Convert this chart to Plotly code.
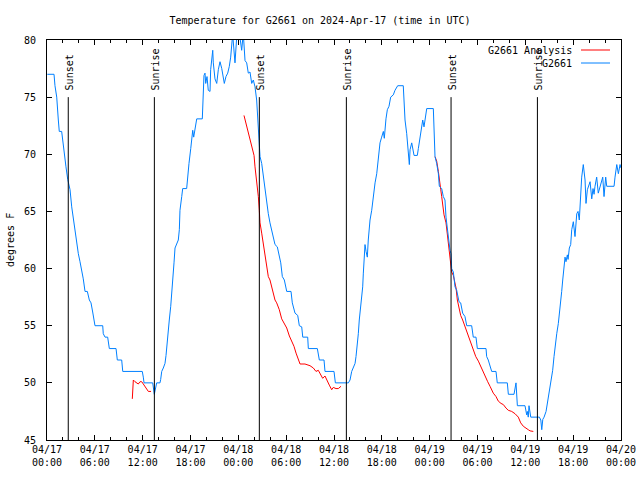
import numpy as np
import pandas as pd
import plotly.graph_objects as go

BASE = "2024-04-17 00:00"

# Observed G2661 temperature: hours since BASE, degrees F
obs_hours = [0.04, 0.88, 1.00, 1.22, 1.42, 1.54, 1.84, 2.04, 2.38, 2.60, 2.89, 3.10, 3.30, 3.51, 3.73, 3.93,
             4.14, 4.35, 4.55, 4.77, 5.06, 5.31, 5.52, 5.73, 5.93, 6.02, 6.99, 7.06, 7.28, 7.61, 7.82, 8.66,
             8.82, 9.37, 9.50, 11.95, 12.08, 12.17, 13.26, 13.33, 13.46, 13.76, 14.17, 14.26, 14.39, 14.59,
             14.80, 14.93, 15.09, 15.22, 15.34, 15.52, 15.64, 15.77, 15.93, 16.06, 16.27, 16.47, 16.60, 16.68,
             16.90, 17.02, 17.52, 17.65, 17.81, 18.03, 18.15, 18.28, 18.40, 18.57, 18.78, 19.48, 19.53, 19.61,
             19.69, 19.82, 19.91, 20.07, 20.23, 20.45, 20.53, 20.79, 20.86, 21.07, 21.29, 21.49, 21.70, 21.92,
             22.04, 22.24, 22.45, 22.67, 22.87, 23.04, 23.29, 23.46, 23.58, 23.80, 24.00, 24.21, 24.42, 24.62,
             24.84, 25.05, 25.25, 25.46, 25.68, 25.88, 26.09, 26.30, 26.51, 26.63, 26.72, 26.93, 27.13, 27.35,
             27.56, 27.76, 27.97, 28.19, 28.60, 28.89, 29.14, 29.32, 29.52, 29.77, 30.07, 30.61, 30.77, 31.11,
             31.45, 31.65, 31.95, 32.08, 32.70, 32.78, 33.91, 34.03, 34.16, 34.75, 34.87, 36.00, 36.17, 37.80,
             38.01, 38.22, 38.64, 38.76, 38.92, 39.05, 39.17, 39.35, 39.48, 39.60, 39.68, 39.80, 39.89, 40.02,
             40.18, 40.30, 40.52, 40.73, 40.93, 41.15, 41.36, 41.56, 41.77, 41.98, 42.19, 42.31, 42.40, 42.52,
             42.69, 42.90, 43.11, 43.44, 43.65, 43.87, 43.99, 44.69, 44.78, 44.91, 45.12, 45.32, 45.45, 45.54,
             45.75, 46.04, 46.45, 46.58, 46.79, 47.00, 47.13, 47.29, 47.42, 47.63, 48.46, 48.55, 48.67, 48.88,
             49.09, 49.21, 49.51, 49.71, 49.92, 50.05, 50.21, 50.34, 50.55, 50.68, 50.76, 50.97, 51.09, 51.18,
             51.39, 51.68, 51.89, 52.14, 52.43, 52.65, 53.27, 53.47, 53.81, 53.98, 55.07, 55.15, 55.35, 55.78,
             56.32, 56.48, 57.74, 57.87, 58.58, 58.71, 58.83, 59.00, 59.96, 60.17, 60.25, 60.37, 60.46, 60.68,
             61.76, 61.94, 62.06, 62.19, 62.35, 62.60, 62.76, 62.93, 63.18, 63.43, 63.60, 63.72, 63.94, 64.14,
             64.26, 64.44, 64.56, 64.69, 64.85, 64.98, 65.10, 65.27, 65.36, 65.52, 65.69, 65.82, 66.02, 66.23,
             66.45, 66.61, 66.77, 66.95, 67.07, 67.27, 67.49, 67.61, 67.78, 68.12, 68.33, 68.49, 68.62, 68.74,
             68.95, 69.15, 69.37, 69.71, 69.87, 70.08, 70.21, 71.13, 71.25, 71.47, 71.67, 71.88, 72.00]
obs_temp = [77, 77, 76, 75, 73, 72, 72, 70.7, 68.9, 67.8, 66.9, 65.4, 64.3, 63.4, 62.2, 61.3,
            60.6, 59.9, 59.1, 58, 58, 57.25, 57, 56.2, 55.5, 55, 55, 54.3, 54, 54, 53, 53,
            52, 52, 51, 51, 50.5, 50, 50, 49.7, 49, 50, 50, 50.3, 51, 51.3,
            51.7, 52.4, 53.4, 54.6, 55.5, 56.7, 58.1, 59.4, 60.5, 61.8, 62.1, 62.5, 63.4, 65.1,
            66.3, 67, 67, 68.2, 69.2, 70.5, 71.25, 72.1, 71.5, 72.3, 73.1, 73.1, 74, 75.3,
            76.9, 77.1, 76.2, 76.8, 75.6, 75.5, 77.4, 79.1, 78, 76.6, 76.2, 77.4, 78.1, 77.5,
            77.1, 76.2, 76.8, 77.1, 77.7, 78.5, 80.5, 79.1, 78, 80.3, 81, 80.2, 79.1, 80.6,
            78.2, 78, 77.1, 77.2, 76.2, 76.5, 75.9, 74.75, 72.4, 71, 69.8, 69.2, 68, 66.9,
            65.7, 64.8, 64, 63.4, 62.1, 61.9, 61.2, 60.5, 59.3, 59, 58, 58, 57, 56.1,
            55.9, 55, 54.9, 54, 54, 53, 53, 52.4, 52, 52, 51, 51, 50, 50,
            50.25, 51, 51.7, 52.3, 53.3, 54.3, 55.5, 56.5, 57.5, 58.4, 59.6, 61.2, 62.1, 61.5,
            61, 62.5, 64.25, 65.1, 66.3, 67.5, 68.3, 69.8, 71, 71.5, 72, 71.4, 72.3, 73.1,
            73.9, 74.2, 75, 75.2, 75.6, 75.9, 76, 76, 74.75, 73, 71.8, 70.4, 69.1, 70.4,
            71, 69.9, 69.9, 70.5, 71.5, 72.3, 73, 72.4, 73.1, 74, 74, 72.1, 69.8, 69.2,
            68.3, 67.2, 67, 66.3, 66, 64.5, 63.4, 62.6, 61.6, 61.3, 60, 59.7, 59.1, 58.4,
            58.1, 57.1, 57, 56.1, 55.8, 55, 55, 54, 54, 53, 53, 52.3, 52, 51,
            51, 50, 50, 49, 49, 49.7, 50, 48, 48, 47.2, 47.5, 47, 48, 47,
            47, 46.75, 45.9, 46.8, 47, 47.5, 48.2, 48.9, 50, 51.1, 52.3, 53.2, 54.3, 55.2,
            55.9, 57.25, 58, 59, 60.2, 61, 60.6, 61.2, 60.8, 61.8, 62.1, 63.4, 64.1, 62.8,
            64.8, 65, 64.25, 66.3, 68, 69.1, 67.75, 65.7, 66.9, 67.6, 66.1, 67, 66.5, 67.2,
            68, 66.6, 67.2, 68, 66.3, 68, 67.2, 67.2, 68, 69.1, 68.3, 69.1, 68.8]

# Analysis series, three separate segments
ana1_hours = [10.70, 10.83, 11.04, 11.45, 11.67, 11.88, 12.08, 12.29, 12.51, 12.71, 13.05]
ana1_temp = [48.6, 50.25, 50.1, 49.9, 50.1, 50.1, 49.9, 49.7, 49.4, 49.25, 49.25]
ana2_hours = [24.71, 25.05, 25.38, 25.68, 25.97, 26.09, 26.30, 26.51, 26.63, 26.72, 26.93, 27.13, 27.35,
              27.56, 27.76, 27.97, 28.19, 28.39, 28.60, 28.81, 29.14, 29.44, 29.73, 30.07, 30.40, 30.70,
              30.98, 31.24, 31.52, 31.74, 32.36, 32.99, 33.41, 33.74, 34.03, 34.25, 34.58, 34.87, 35.16,
              35.41, 35.71, 35.91, 36.25, 36.54, 36.88]
ana2_temp = [73.4, 72.4, 71.5, 70.8, 69.9, 68.9, 67.75, 66.3, 65.1, 64, 63.1, 62.2, 61.3,
             60.2, 59.3, 59, 58.3, 57.8, 57.25, 57, 56.4, 55.6, 55.2, 54.8, 54.1, 53.7,
             53.2, 52.6, 52, 51.65, 51.65, 51.5, 51.3, 51, 51.1, 50.8, 50.4, 50.6, 50.1,
             49.8, 49.4, 49.6, 49.5, 49.5, 49.7]
ana3_hours = [48.67, 48.88, 49.09, 49.21, 49.39, 49.51, 49.64, 49.80, 50.05, 50.21, 50.34, 50.55, 50.76,
              50.97, 51.09, 51.31, 51.47, 51.68, 51.89, 52.14, 52.35, 52.56, 52.77, 52.97, 53.27, 53.47,
              53.78, 54.11, 54.41, 54.66, 54.94, 55.28, 55.57, 55.98, 56.32, 56.61, 56.95, 57.24, 57.57,
              57.86, 58.29, 58.71, 59.12, 59.42, 59.75, 60.09, 60.37, 60.59, 61.00]
ana3_temp = [69.8, 69.4, 68.5, 67.6, 66.9, 66.3, 65.3, 64.7, 64, 63.1, 62.2, 61, 59.7,
             59.4, 59, 58.3, 57.25, 56.4, 55.9, 55.5, 55.1, 54.6, 54.2, 53.75, 53.3, 52.9,
             52.3, 51.9, 51.4, 51, 50.5, 50.1, 49.7, 49.1, 48.8, 48.4, 48.2, 48.1, 47.8,
             47.6, 47.5, 47.3, 47, 46.5, 46.2, 46, 45.9, 45.8, 45.75]

sunset_times = ["2024-04-17 02:40", "2024-04-18 02:38", "2024-04-19 02:41"]
sunrise_times = ["2024-04-17 13:28", "2024-04-18 13:33", "2024-04-19 13:31"]

x_start = "2024-04-17 00:00"
x_end = "2024-04-20 00:00"
y_ticks = [45, 50, 55, 60, 65, 70, 75, 80]

FONT = "DejaVu Sans Mono"
RED = "#ff0000"
BLUE = "#0080ff"

base = pd.Timestamp(BASE)
def to_time(h):
    return base + pd.to_timedelta(np.array(h), unit="h")

ana_x = list(to_time(ana1_hours)) + [None] + list(to_time(ana2_hours)) + [None] + list(to_time(ana3_hours))
ana_y = ana1_temp + [None] + ana2_temp + [None] + ana3_temp

fig = go.Figure()
fig.add_trace(go.Scatter(x=ana_x, y=ana_y, mode="lines", name="G2661 Analysis",
                         line=dict(color=RED, width=1), connectgaps=False, showlegend=False))
fig.add_trace(go.Scatter(x=to_time(obs_hours), y=obs_temp, mode="lines", name="G2661",
                         line=dict(color=BLUE, width=1), showlegend=False))

for t in sunset_times + sunrise_times:
    fig.add_shape(type="line", x0=t, x1=t, y0=45, y1=75, xref="x", yref="y",
                  line=dict(color="black", width=1))
for t in sunset_times:
    fig.add_annotation(x=t, y=75, text="Sunset", textangle=-90, showarrow=False,
                       xanchor="center", yanchor="bottom", yshift=5, xshift=1,
                       font=dict(family=FONT, size=10, color="black"))
for t in sunrise_times:
    fig.add_annotation(x=t, y=75, text="Sunrise", textangle=-90, showarrow=False,
                       xanchor="center", yanchor="bottom", yshift=5, xshift=1,
                       font=dict(family=FONT, size=10, color="black"))

# legend (text left, line sample right, gnuplot style)
L, W, T, H = 47, 574, 40, 400
def px(xp):
    return (xp - L) / W
def py(yp):
    return 1 - (yp - T) / H
for label, color, yp in [("G2661 Analysis", RED, 50), ("G2661", BLUE, 63)]:
    fig.add_annotation(x=px(574), y=py(yp), xref="paper", yref="paper", text=label,
                       showarrow=False, xanchor="right", yanchor="middle",
                       font=dict(family=FONT, size=10, color="black"))
    fig.add_shape(type="line", xref="paper", yref="paper", x0=px(581), x1=px(610),
                  y0=py(yp), y1=py(yp), line=dict(color=color, width=1))

fig.add_annotation(x=px(10), y=0.5, xref="paper", yref="paper", text="degrees F",
                   textangle=-90, showarrow=False, xanchor="center", yanchor="middle",
                   font=dict(family=FONT, size=10, color="black"))

fig.update_layout(
    width=640, height=480,
    margin=dict(l=47, r=19, t=40, b=40, autoexpand=False),
    paper_bgcolor="white", plot_bgcolor="white",
    title=dict(text="Temperature for G2661 on 2024-Apr-17 (time in UTC)", x=0.5, xanchor="center",
               y=1 - 20 / 480, yanchor="middle", font=dict(family=FONT, size=10, color="black")),
    font=dict(family=FONT, size=10, color="black"),
)
fig.update_xaxes(
    range=[x_start, x_end], type="date", tickmode="linear", tick0=x_start, dtick=6 * 3600 * 1000,
    tickformat="%m/%d<br>%H:%M", ticks="inside", ticklen=5, tickcolor="black", automargin=False,
    showline=True, linecolor="black", linewidth=1, mirror="allticks", showgrid=False, zeroline=False,
    minor=dict(dtick=2 * 3600 * 1000, ticks="inside", ticklen=3, tickcolor="black", showgrid=False),
    tickfont=dict(family=FONT, size=10, color="black"),
)
fig.update_yaxes(
    range=[45, 80], tickmode="array", tickvals=y_ticks, ticktext=[str(v) for v in y_ticks],
    ticks="inside", ticklen=5, tickcolor="black", showline=True, linecolor="black", linewidth=1,
    mirror="allticks", showgrid=False, zeroline=False, ticklabelstandoff=8, automargin=False,
    tickfont=dict(family=FONT, size=10, color="black"),
)

fig.write_html("out.html", config={"displayModeBar": False},
               post_script="document.body.style.margin='0px';")
